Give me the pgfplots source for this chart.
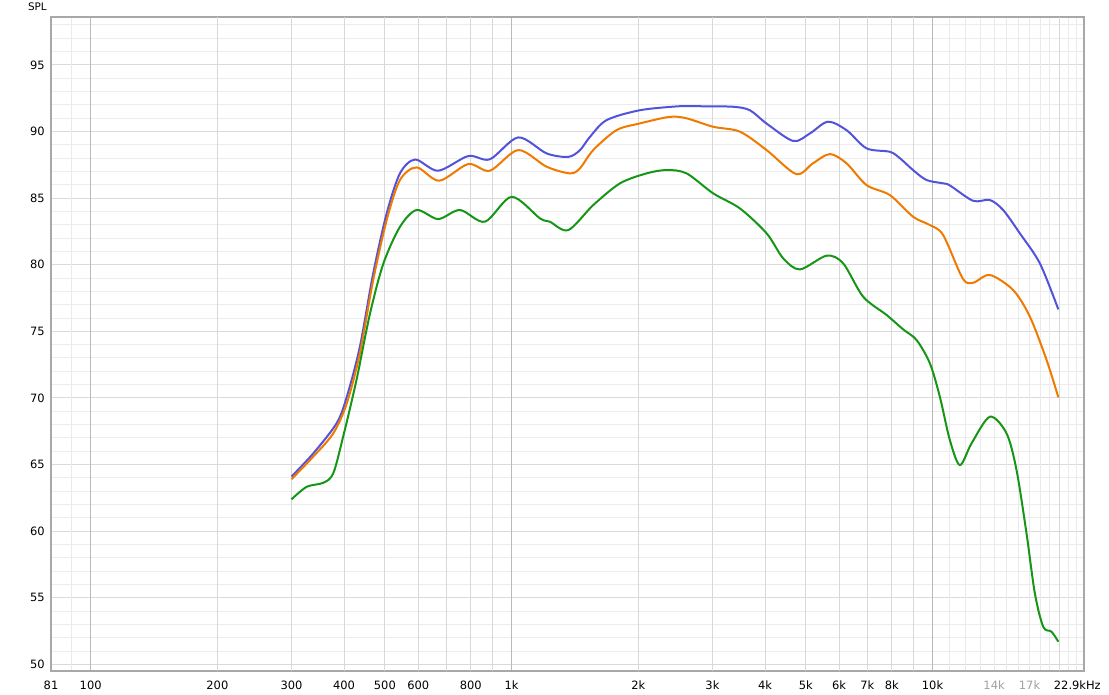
\documentclass[border=0pt]{standalone}
\usepackage{fontspec}
\setmainfont{DejaVu Sans}
\usepackage{pgfplots}
\pgfplotsset{compat=1.18}

\definecolor{cBlue}{RGB}{82,82,218}
\definecolor{cOrange}{RGB}{240,122,0}
\definecolor{cGreen}{RGB}{22,150,22}
\definecolor{gMaj}{RGB}{185,185,185}
\definecolor{gMed}{RGB}{216,216,216}
\definecolor{gLt}{RGB}{234,234,234}
\definecolor{gFive}{RGB}{218,218,218}
\definecolor{gOne}{RGB}{236,236,236}
\definecolor{frameg}{RGB}{168,168,168}
\definecolor{lblgray}{RGB}{160,160,160}

% 1 px of the reference = 0.75pt
\begin{document}
\begin{tikzpicture}
% horizontal grid and dB labels
\begin{axis}[
  scale only axis, width=774.75pt, height=490.5pt,
  xmode=log, xmin=80.5, xmax=22900, ymin=49.5, ymax=98.6,
  at={(0,0)}, anchor=south west,
  tick style={draw=none},
  ticklabel style={font=\fontsize{8.6}{10}\selectfont},
  axis line style={draw=none},
  xtick=\empty,
  ytick={50,55,...,95},
  minor ytick={50,51,...,98},
  ymajorgrids, yminorgrids,
  major grid style={gFive, line width=0.75pt},
  minor grid style={gOne, line width=0.75pt},
  yticklabel style={anchor=east, inner sep=0pt, xshift=-4.5pt},
  /pgf/number format/assume math mode=true,
]
\end{axis}

% vertical grid, frame and curves
\begin{axis}[
  scale only axis, width=774.75pt, height=490.5pt,
  xmode=log, xmin=80.5, xmax=22900, ymin=49.5, ymax=98.6,
  at={(0,0)}, anchor=south west,
  tick style={draw=none},
  ticklabel style={font=\fontsize{8.6}{10}\selectfont},
  clip=false,
  axis line style={draw=frameg, line width=1.3pt},
  ytick=\empty,
  xtick={100,1000,10000}, xticklabels={100,1k,10k},
  xmajorgrids,
  major grid style={gMaj, line width=0.9pt},
  minor xtick={90,11000,12000,13000,14000,15000,16000,17000,18000,19000,21000,22000},
  xminorgrids,
  minor grid style={gLt, line width=0.75pt},
  extra x ticks={200,300,400,500,600,700,800,900,2000,3000,4000,5000,6000,7000,8000,9000,20000},
  extra x tick labels={200,300,400,500,600,,800,,2k,3k,4k,5k,6k,7k,8k,,},
  extra x tick style={grid=major, major grid style={gMed, line width=0.75pt}},
  xticklabel style={anchor=north, inner sep=0pt, yshift=-7.5pt},
]

\addplot[cBlue, line width=1.5pt, smooth] coordinates {
(300,64.1) (338,65.84) (384,68.1) (406,70.09) (436,73.84) (469,79.35)
(505,83.86) (543,86.86) (590,87.9) (669,87.06) (789,88.16) (888,87.92)
(1037,89.56) (1211,88.36) (1363,88.1) (1453,88.6) (1535,89.6) (1682,90.86)
(2017,91.6) (2500,91.9) (2802,91.9) (3361,91.86) (3682,91.6) (4034,90.6)
(4667,89.29) (5113,89.86) (5643,90.74) (6249,90.1) (6970,88.74) (7918,88.48)
(8363,88.0) (8994,87.1) (9677,86.36) (10597,86.11) (11000,85.95)
(12486,84.8) (13682,84.86) (14720,84.1) (16120,82.36) (17990,80.1) (19900,76.65)
};

\addplot[cOrange, line width=1.5pt, smooth] coordinates {
(300,63.9) (338,65.6) (377,67.34) (406,69.6) (436,73.35) (469,78.85)
(505,83.36) (543,86.36) (595,87.31) (673,86.31) (789,87.56) (888,87.06)
(1037,88.61) (1211,87.36) (1376,86.86) (1453,87.24) (1563,88.61) (1776,90.11)
(2017,90.61) (2370,91.1) (2600,91.0) (3012,90.36) (3486,89.99) (4034,88.61)
(4742,86.81) (5194,87.61) (5703,88.31) (6249,87.61) (6970,85.98) (7918,85.23)
(8994,83.6) (9854,82.98) (10597,82.23) (11790,78.98) (12486,78.65) (13682,79.23)
(15540,78.1) (17030,76.1) (18660,72.85) (19900,70.05)
};

\addplot[cGreen, line width=1.5pt, smooth] coordinates {
(300,62.39) (326,63.33) (357,63.63) (377,64.34) (398,67.09) (428,71.34)
(461,76.35) (496,80.1) (543,82.85) (595,84.11) (669,83.43) (754,84.11)
(864,83.23) (1000,85.1) (1168,83.48) (1233,83.23) (1363,82.6) (1563,84.48)
(1809,86.11) (2092,86.86) (2335,87.11) (2604,86.86) (3012,85.36) (3486,84.23)
(4034,82.36) (4418,80.48) (4841,79.65) (5601,80.68) (6134,80.1) (6842,77.6)
(7776,76.23) (8515,75.15) (9162,74.35) (9854,72.6) (10407,70.09) (10992,66.84)
(11611,64.96) (12377,66.59) (13682,68.59) (14990,67.34) (15830,64.59)
(16720,59.83) (17500,55.33) (18320,52.82) (19170,52.45) (19900,51.7)
};

\node[font=\fontsize{8.6}{10}\selectfont, anchor=north, inner sep=0pt, yshift=-7.5pt]
  at (axis cs:80.5,49.5) {81};
\node[font=\fontsize{8.6}{10}\selectfont, text=lblgray, anchor=north, inner sep=0pt, yshift=-7.5pt]
  at (axis cs:14000,49.5) {14k};
\node[font=\fontsize{8.6}{10}\selectfont, text=lblgray, anchor=north, inner sep=0pt, yshift=-7.5pt]
  at (axis cs:17000,49.5) {17k};
\node[font=\fontsize{8.6}{10}\selectfont, anchor=north east, inner sep=0pt, yshift=-7.5pt, xshift=12.75pt]
  at (axis cs:22900,49.5) {22.9kHz};
\node[font=\fontsize{7.8}{9}\selectfont, anchor=south east, inner sep=0pt, xshift=-3pt, yshift=4.5pt]
  at (rel axis cs:0,1) {SPL};
\end{axis}

\pgfresetboundingbox
\path[use as bounding box] (-38.25pt,-17.25pt) rectangle (793.5pt,503.25pt);
\end{tikzpicture}
\end{document}
